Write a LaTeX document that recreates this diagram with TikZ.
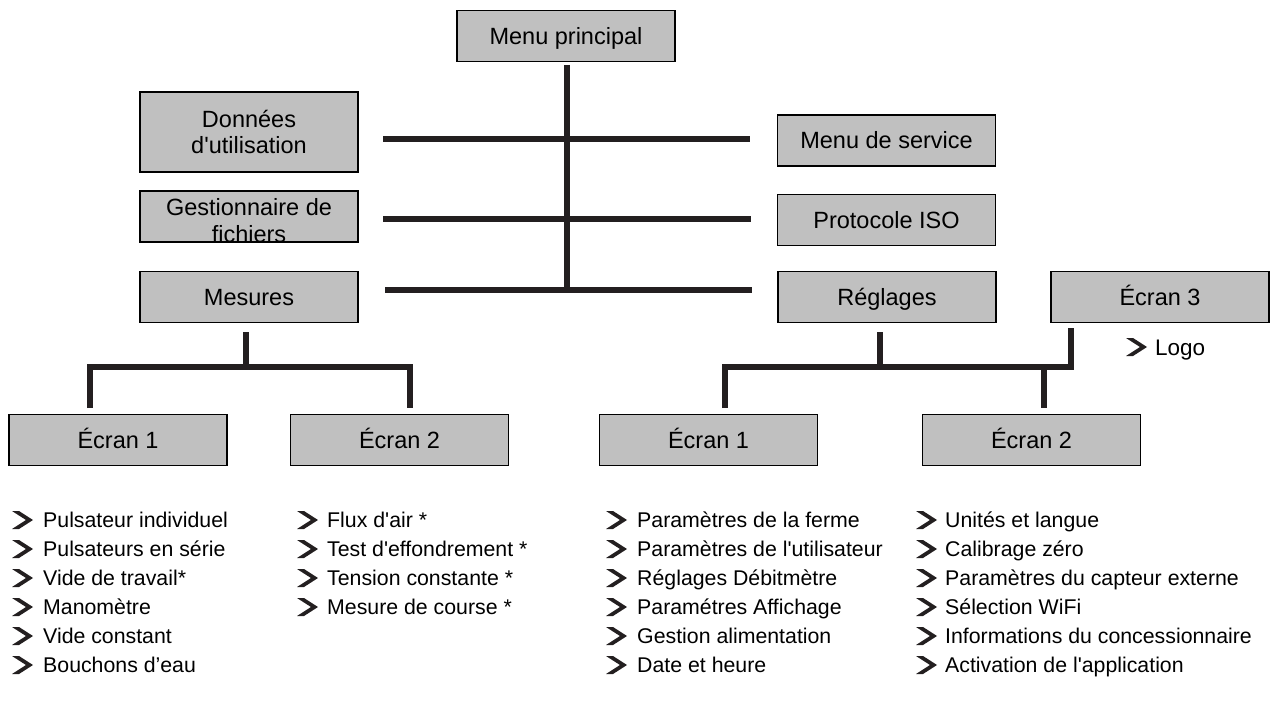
\documentclass[tikz,border=0pt]{standalone}
\usepackage{fontspec}
\setmainfont{Liberation Sans}[Ligatures=TeXOff]
\usetikzlibrary{calc}
\definecolor{boxgray}{HTML}{C0C0C0}
\definecolor{ink}{HTML}{231F20}
\begin{document}
\begin{tikzpicture}[x=1pt,y=-1pt,
  boxbase/.style={draw=black, line width=1.6pt, fill=boxgray, minimum width=218pt,
    minimum height=51pt, inner sep=0pt, align=center,
    font=\fontsize{23.5}{26}\selectfont},
  menubox/.style={boxbase, text height=17pt, text depth=0pt},
  boxtext/.style={inner sep=0pt, font=\fontsize{23.5}{26}\selectfont},
  tree/.style={draw=ink, line width=6pt, line cap=butt, line join=miter},
  item/.style={anchor=west, inner sep=0pt, text height=15.3pt, text depth=0pt,
    font=\fontsize{21.3}{25}\selectfont},
  chevron/.pic={\fill[ink] (0,-9)--(7,-9)--(21,0)--(7,9)--(0,9)--(14,0)--cycle;}
]
\useasboundingbox (0,0) rectangle (1271,706);

% top level
\node[menubox] (mp)  at (566,36) {Menu principal};
\node[boxbase, minimum height=80pt] (don) at (249,132) {Données\\d'utilisation};
\node[menubox] (ges) at (249,216.5) {};
\node[boxtext, anchor=base] (ges1) at (249,215) {Gestionnaire de};
\node[boxtext, anchor=base] (ges2) at (249,242) {fichiers};
\node[menubox] (mes) at (249,297) {Mesures};
\node[menubox] (ms)  at (886.5,140.5) {Menu de service};
\node[menubox] (iso) at (886.5,220) {Protocole ISO};
\node[menubox] (reg) at (887,297) {Réglages};
\node[menubox] (e3)  at (1160,297) {Écran 3};

% second level
\node[menubox] (le1) at (118,440) {Écran 1};
\node[menubox] (le2) at (399.5,440) {Écran 2};
\node[menubox] (re1) at (708.5,440) {Écran 1};
\node[menubox] (re2) at (1031.5,440) {Écran 2};

% main trunk and side arms
\coordinate (tTop) at (567,65);
\coordinate (tBot) at (567,290);
\coordinate (a1L) at (383,139);  \coordinate (a1R) at (750,139);
\coordinate (a2L) at (383,219);  \coordinate (a2R) at (751,219);
\coordinate (a3L) at (385,290);  \coordinate (a3R) at (752,290);
\draw[tree] (tTop) -- (tBot);
\draw[tree] (a1L) -- (a1R);
\draw[tree] (a2L) -- (a2R);
\draw[tree] (a3L) -- (a3R);

% Mesures branch
\coordinate (mTop) at (246,332);
\coordinate (mJ)   at (246,367);
\coordinate (mL)   at (90,408);
\coordinate (mR)   at (410,408);
\draw[tree] (mTop) -- (mJ);
\draw[tree] (mL) -- (mL |- mJ) -- (mR |- mJ) -- (mR);

% Réglages branch
\coordinate (rTop) at (880,332);
\coordinate (rJ)   at (880,367);
\coordinate (rL)   at (724.5,408);
\coordinate (rM)   at (1044,408);
\coordinate (rE3)  at (1070.5,328);
\draw[tree] (rTop) -- (rJ);
\draw[tree] (rL) -- (rL |- rJ) -- (rE3 |- rJ) -- (rE3);
\draw[tree] (rM |- rJ) -- (rM);

% Écran 3 item
\pic at (1126,347) {chevron};
\node[item, text height=16pt, font=\fontsize{22.5}{26}\selectfont] (logo) at (1155,347) {Logo};

% item lists
\foreach \t [count=\i] in {Pulsateur individuel, Pulsateurs en série, Vide de travail*,
    Manomètre, Vide constant, Bouchons d’eau}{
  \pic at (12,{520+(\i-1)*29}) {chevron};
  \node[item] (ia\i) at (43,{520+(\i-1)*29}) {\t};
}
\foreach \t [count=\i] in {Flux d'air *, Test d'effondrement *, Tension constante *,
    Mesure de course *}{
  \pic at (297,{520+(\i-1)*29}) {chevron};
  \node[item] (ib\i) at (327,{520+(\i-1)*29}) {\t};
}
\foreach \t [count=\i] in {Paramètres de la ferme, Paramètres de l'utilisateur,
    Réglages Débitmètre, Paramétres Affichage, Gestion alimentation, Date et heure}{
  \pic at (606,{520+(\i-1)*29}) {chevron};
  \node[item] (ic\i) at (637,{520+(\i-1)*29}) {\t};
}
\foreach \t [count=\i] in {Unités et langue, Calibrage zéro, Paramètres du capteur externe,
    Sélection WiFi, Informations du concessionnaire, Activation de l'application}{
  \pic at (916,{520+(\i-1)*29}) {chevron};
  \node[item] (id\i) at (945,{520+(\i-1)*29}) {\t};
}
\end{tikzpicture}
\end{document}
